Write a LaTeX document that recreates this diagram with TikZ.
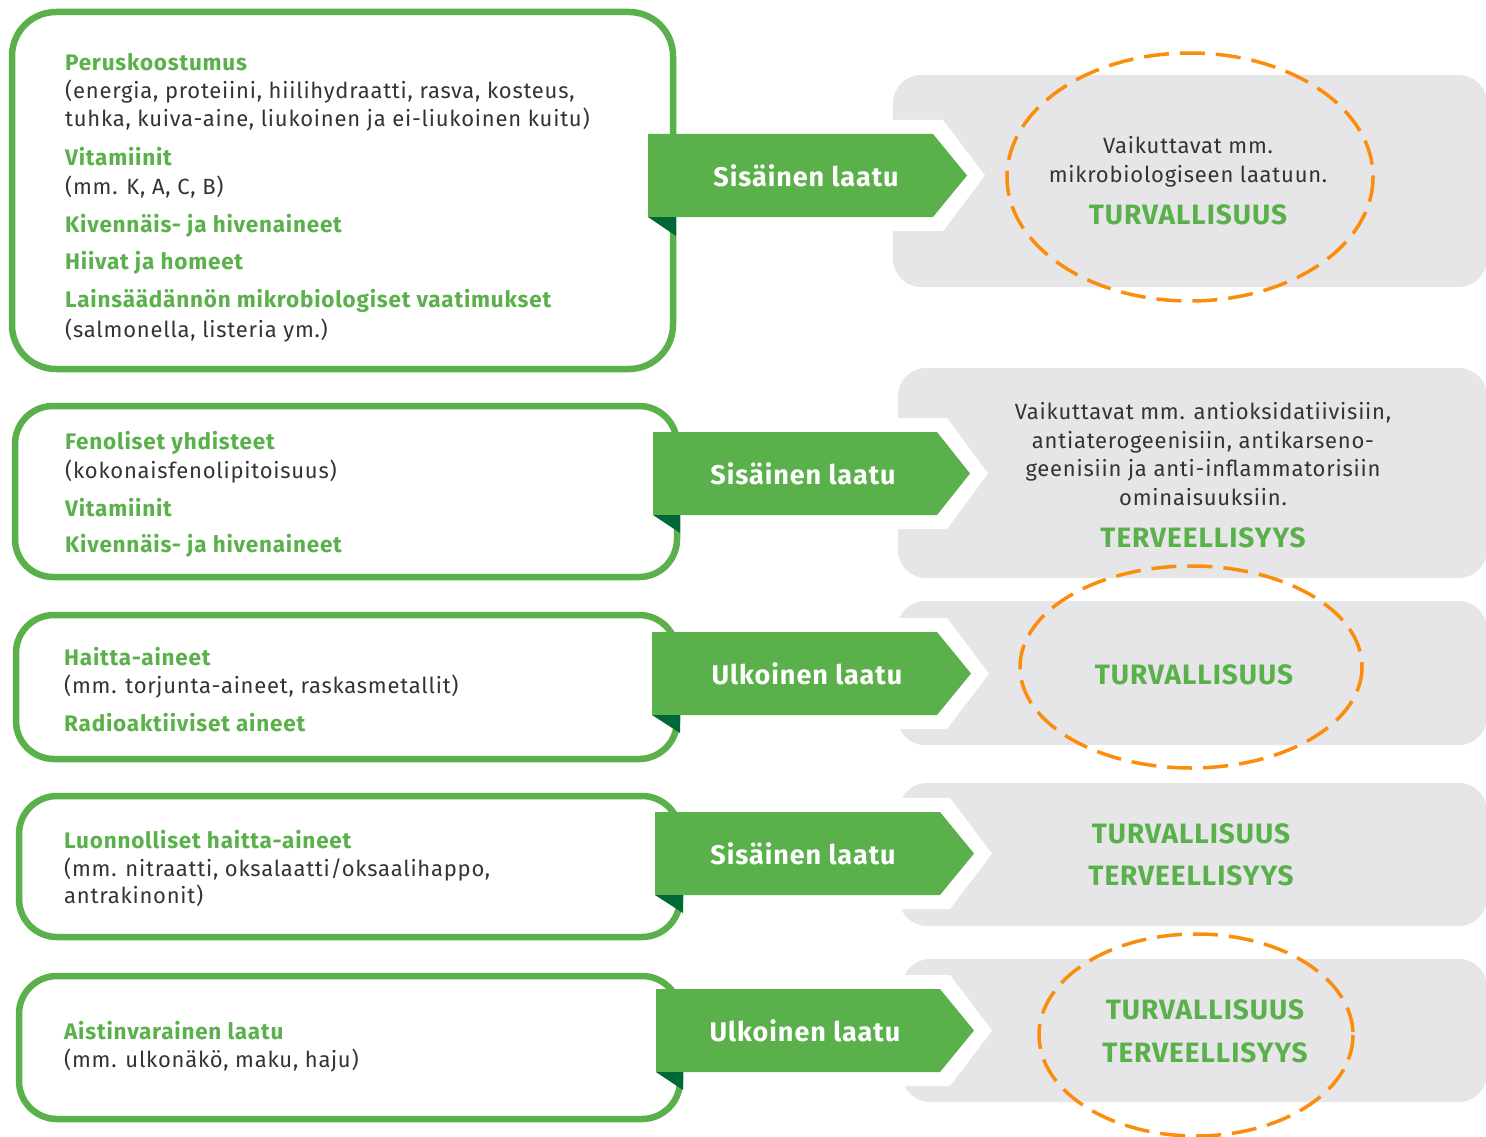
\documentclass[tikz,border=0pt]{standalone}
\usepackage{fontspec}
\setmainfont[LetterSpace=3.5]{Fira Sans}
\definecolor{leaf}{RGB}{90,176,74}
\definecolor{leafdark}{RGB}{0,104,55}
\definecolor{panegray}{RGB}{230,230,232}
\definecolor{ink}{RGB}{51,51,51}
\definecolor{tangerine}{RGB}{252,140,12}
\tikzset{
  itembox/.style={draw=leaf,line width=6.5pt,rounded corners=38pt},
  graybox/.style={fill=panegray,rounded corners=28pt},
  ring/.style={draw=tangerine,line width=3.5pt,dash pattern=on 25pt off 11pt},
  head/.style={anchor=base west,inner sep=0pt,text=leaf,font=\fontsize{22.5}{26}\selectfont\bfseries},
  plain/.style={anchor=base west,inner sep=0pt,text=ink,font=\fontsize{22}{26}\selectfont},
  tag/.style={text=white,inner sep=0pt,font=\fontsize{27}{30}\selectfont\bfseries},
  verdict/.style={anchor=base,inner sep=0pt,text=leaf,font=\fontsize{28}{30}\selectfont\bfseries},
  note/.style={align=center,inner sep=0pt,text=ink,font=\fontsize{22}{28.5}\selectfont}
}
\begin{document}
\begin{tikzpicture}[x=1pt,y=-1pt]
		\useasboundingbox (0,0) rectangle (1486,1137);
		\fill[graybox] (893,75) rectangle (1487,287);
		\fill[graybox] (898,368) rectangle (1487,578);
		\fill[graybox] (897,601) rectangle (1487,745);
		\fill[graybox] (899,783) rectangle (1487,926);
		\fill[graybox] (902,959) rectangle (1487,1102);
		\fill[white] (880,120) -- (943,120) -- (985,175.5) -- (943,231) -- (880,231) -- cycle;
		\fill[white] (880,418) -- (947,418) -- (988,473.5) -- (947,529) -- (880,529) -- cycle;
		\fill[white] (880,618) -- (947,618) -- (989,673.5) -- (947,729) -- (880,729) -- cycle;
		\fill[white] (880,798) -- (950,798) -- (992,853.5) -- (950,909) -- (880,909) -- cycle;
		\fill[white] (880,975) -- (950,975) -- (992,1030.5) -- (950,1086) -- (880,1086) -- cycle;
		\draw[ring] (1190,177) ellipse [x radius=183, y radius=124];
		\draw[ring] (1191,667) ellipse [x radius=171, y radius=101];
		\draw[ring] (1196,1035) ellipse [x radius=157, y radius=101];
		\draw[itembox,rounded corners=44pt] (12,12) rectangle (673,369);
		\draw[itembox] (15,406) rectangle (677,577);
		\draw[itembox] (16,615) rectangle (677,759);
		\draw[itembox] (19,796) rectangle (680,937);
		\draw[itembox] (19,976) rectangle (680,1119);
		\fill[leaf] (648,134) -- (933,134) -- (967,175.5) -- (933,217) -- (648,217) -- cycle;
		\fill[leafdark] (648,217) -- (676,217) -- (676,236) -- cycle;
		\fill[leaf] (653,432) -- (937,432) -- (970,473.5) -- (937,515) -- (653,515) -- cycle;
		\fill[leafdark] (653,515) -- (680,515) -- (680,533) -- cycle;
		\fill[leaf] (652,632) -- (937,632) -- (971,673.5) -- (937,715) -- (652,715) -- cycle;
		\fill[leafdark] (652,715) -- (680,715) -- (680,733) -- cycle;
		\fill[leaf] (655,812) -- (940,812) -- (974,853.5) -- (940,895) -- (655,895) -- cycle;
		\fill[leafdark] (655,895) -- (683,895) -- (683,913) -- cycle;
		\fill[leaf] (656,989) -- (940,989) -- (974,1030.5) -- (940,1072) -- (656,1072) -- cycle;
		\fill[leafdark] (656,1072) -- (683,1072) -- (683,1090) -- cycle;
		\node[tag] (tag1) at (806,175.5) {Sisäinen laatu};
		\node[tag] (tag2) at (803,473.5) {Sisäinen laatu};
		\node[tag] (tag3) at (807,673.5) {Ulkoinen laatu};
		\node[tag] (tag4) at (803,853.5) {Sisäinen laatu};
		\node[tag] (tag5) at (805,1030.5) {Ulkoinen laatu};
		\node[head] (perus) at (65,71) {Peruskoostumus};
		\node[plain] (perusa) at (65,99) {(energia, proteiini, hiilihydraatti, rasva, kosteus,};
		\node[plain] (perusb) at (65,127) {tuhka, kuiva-aine, liukoinen ja ei-liukoinen kuitu)};
		\node[head] (vita1) at (65,165) {Vitamiinit};
		\node[plain] (vita1a) at (65,194) {(mm. K, A, C, B)};
		\node[head] (kiv1) at (65,232) {Kivennäis- ja hivenaineet};
		\node[head] (hiiva) at (65,269) {Hiivat ja homeet};
		\node[head] (laki) at (65,307) {Lainsäädännön mikrobiologiset vaatimukset};
		\node[plain] (lakia) at (65,337) {(salmonella, listeria ym.)};
		\node[head] (feno) at (65,449) {Fenoliset yhdisteet};
		\node[plain] (fenoa) at (65,478) {(kokonaisfenolipitoisuus)};
		\node[head] (vita2) at (65,516) {Vitamiinit};
		\node[head] (kiv2) at (65,552) {Kivennäis- ja hivenaineet};
		\node[head] (haitta) at (64,665) {Haitta-aineet};
		\node[plain] (haittaa) at (64,693) {(mm. torjunta-aineet, raskasmetallit)};
		\node[head] (radio) at (64,731) {Radioaktiiviset aineet};
		\node[head] (luonto) at (64,848) {Luonnolliset haitta-aineet};
		\node[plain] (luontoa) at (64,876) {(mm. nitraatti, oksalaatti/oksaalihappo,};
		\node[plain] (luontob) at (64,903) {antrakinonit)};
		\node[head] (aisti) at (64,1039) {Aistinvarainen laatu};
		\node[plain] (aistia) at (64,1067) {(mm. ulkonäkö, maku, haju)};
		\node[note] (note1) at (1188,162) {Vaikuttavat mm.\\mikrobiologiseen laatuun.};
		\node[verdict] (turva1) at (1188,224) {TURVALLISUUS};
		\node[note] (note2) at (1203,454) {Vaikuttavat mm. antioksidatiivisiin,\\antiaterogeenisiin, antikarseno-\\geenisiin ja anti-inflammatorisiin\\ominaisuuksiin.};
		\node[verdict] (terve2) at (1203,547) {TERVEELLISYYS};
		\node[verdict] (turva3) at (1194,684) {TURVALLISUUS};
		\node[verdict] (turva4) at (1191,843) {TURVALLISUUS};
		\node[verdict] (terve4) at (1191,885) {TERVEELLISYYS};
		\node[verdict] (turva5) at (1205,1019) {TURVALLISUUS};
		\node[verdict] (terve5) at (1205,1062) {TERVEELLISYYS};
\end{tikzpicture}
\end{document}
